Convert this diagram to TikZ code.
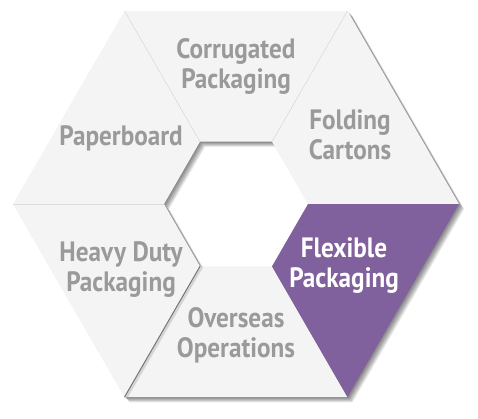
\documentclass[tikz,border=0pt]{standalone}
\usepackage{fontspec}
\setmainfont{PT Sans}[FakeStretch=0.9]
\usetikzlibrary{shadows}
\definecolor{segfill}{HTML}{F4F4F4}
\definecolor{segline}{HTML}{DCDCDC}
\definecolor{labelgray}{HTML}{9A9A9A}
\definecolor{flexpurple}{HTML}{80619D}
\newcommand{\Ro}{223}
\newcommand{\Ri}{72}

\begin{document}
\begin{tikzpicture}[x=1pt, y=1pt,
  segment/.style  = {fill=segfill},
  hilite/.style   = {fill=flexpurple},
  divider/.style  = {draw=segline, line width=0.5pt},
  seglabel/.style = {text=labelgray, align=center, inner sep=0pt,
                     font=\bfseries\fontsize{28}{30}\selectfont},
  hilabel/.style  = {seglabel, text=white}]

\useasboundingbox (-236,-214) rectangle (242,204);

% soft shadow under the whole ring
\foreach \d in {1,...,8}
  \fill[black, opacity=.075, even odd rule, xshift=\d*0.65pt, yshift=-\d*0.65pt]
    (0:\Ro) -- (60:\Ro) -- (120:\Ro) -- (180:\Ro) -- (240:\Ro) -- (300:\Ro) -- cycle
    (0:\Ri) -- (60:\Ri) -- (120:\Ri) -- (180:\Ri) -- (240:\Ri) -- (300:\Ri) -- cycle;

% the six segments
\foreach \a/\sty in {0/segment, 60/segment, 120/segment, 180/segment, 240/segment, 300/hilite}
  \path[\sty] (\a:\Ro) -- ({\a+60}:\Ro) -- ({\a+60}:\Ri) -- (\a:\Ri) -- cycle;

% lines between segments
\foreach \a in {60,120,180}
  \draw[divider] (\a:\Ri) -- (\a:\Ro);
\foreach \d in {1,...,4}
  \draw[black, opacity=.08, line width=1pt, xshift=\d*0.8pt] (240:\Ri) -- (240:\Ro);
\draw[black!55, line width=1pt] (240:\Ri) -- (240:\Ro);

% labels
\node[seglabel] (corrugated) at (0,138)    {Corrugated\\Packaging};
\node[seglabel] (folding)    at (114,69)   {Folding\\Cartons};
\node[seglabel] (paperboard) at (-115,66)  {Paperboard};
\node[seglabel] (heavy)      at (-115,-66) {Heavy Duty\\Packaging};
\node[seglabel] (overseas)   at (0,-131)   {Overseas\\Operations};
\node[hilabel]  (flexible)   at (108,-62)  {Flexible\\Packaging};

\end{tikzpicture}
\end{document}
